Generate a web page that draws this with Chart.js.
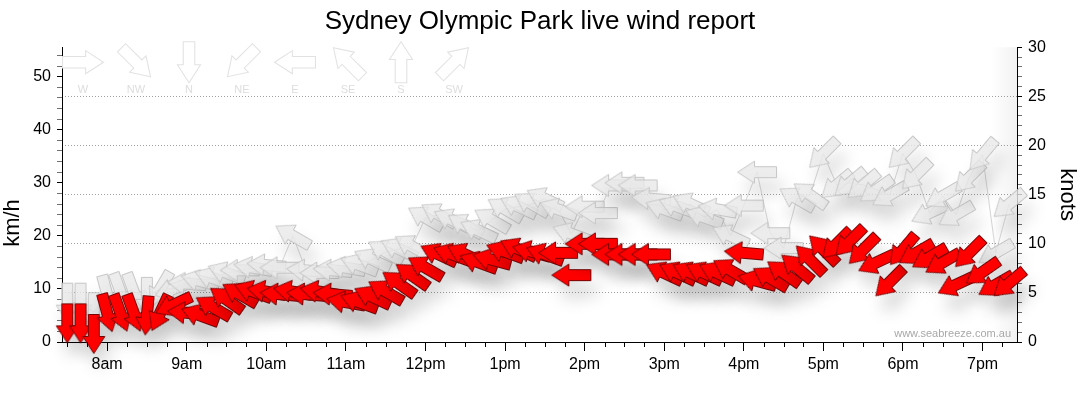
<!DOCTYPE html>
<html>
<head>
<meta charset="utf-8">
<script src="https://cdn.jsdelivr.net/npm/chart.js@4/dist/chart.umd.min.js"></script>
<style>
html, body { margin: 0; padding: 0; background: #fff; }
#wrap { width: 1080px; height: 414px; }
</style>
</head>
<body>
<div id="wrap"><canvas id="windChart" width="1080" height="414"></canvas></div>
<script>
// readings every 10 minutes
const times = [
    "07:30","07:40","07:50",
    "08:00","08:10","08:20","08:30","08:40","08:50",
    "09:00","09:10","09:20","09:30","09:40","09:50",
    "10:00","10:10","10:20","10:30","10:40","10:50",
    "11:00","11:10","11:20","11:30","11:40","11:50",
    "12:00","12:10","12:20","12:30","12:40","12:50",
    "13:00","13:10","13:20","13:30","13:40","13:50",
    "14:00","14:10","14:20","14:30","14:40","14:50",
    "15:00","15:10","15:20","15:30","15:40","15:50",
    "16:00","16:10","16:20","16:30","16:40","16:50",
    "17:00","17:10","17:20","17:30","17:40","17:50",
    "18:00","18:10","18:20","18:30","18:40","18:50",
    "19:00","19:10","19:20"
]
// average wind, km/h and direction it comes from (deg)
const avgKmh = [
    3.5, 3.5, 1.5, 5.5, 5.5, 5.5, 5, 5.5, 7, 5.5,
    5, 6.5, 8, 9, 9.5, 9.5, 9, 9.5, 9, 9.5,
    9, 7.5, 7.5, 8.5, 9.5, 11, 12.5, 14, 16.5, 16.5,
    16.5, 15, 15.5, 17, 17.5, 17, 16.5, 16.8, 12.6, 18.5,
    18.5, 16.5, 16.5, 16.5, 16.5, 13, 13, 13, 13, 13,
    13.5, 16.8, 11.5, 12, 13, 14, 15.5, 17.4, 18.5, 19,
    17.4, 15, 11.3, 17.4, 16.8, 16, 15, 10.8, 16.8, 13.2,
    10.8, 11.1
]
const avgDir = [
    0, 0, 0, 345, 340, 340, 5, 25, 65, 95,
    110, 120, 125, 120, 110, 100, 95, 100, 95, 100,
    95, 100, 110, 115, 120, 125, 125, 120, 115, 110,
    115, 110, 105, 110, 115, 105, 110, 90, 90, 90,
    90, 90, 90, 90, 90, 115, 115, 115, 115, 115,
    120, 95, 105, 120, 125, 130, 135, 135, 45, 45,
    45, 65, 45, 40, 60, 60, 60, 65, 45, 55,
    60, 50
]
// gusts
const gustKmh = [
    7.4, 7.4, 5.6, 9, 9.5, 9.5, 8.5, 10, 10, 11,
    11.5, 12, 13, 13.5, 14, 14.5, 14, 20, 13.5, 13,
    13.5, 14, 14.5, 15.5, 17, 17.5, 18, 23.4, 24, 23,
    22, 21, 23, 25, 25.5, 26, 27, 25, 20.4, 25.5,
    24.3, 29.5, 30, 29.5, 27, 25, 25.5, 26, 23.5, 25,
    20, 25.7, 32, 20.5, 17.7, 27, 27.7, 35.5, 29.6, 30,
    29.6, 28.7, 27.7, 35.5, 31.5, 24.3, 27.5, 24, 31, 35.3,
    16.8, 26
]
const gustDir = [
    0, 0, 0, 345, 340, 340, 0, 30, 70, 95,
    105, 110, 110, 90, 100, 95, 90, 120, 95, 90,
    95, 100, 110, 115, 120, 115, 120, 120, 120, 115,
    120, 115, 120, 120, 115, 120, 115, 110, 110, 90,
    90, 90, 90, 90, 95, 110, 110, 115, 110, 100,
    115, 90, 90, 90, 90, 120, 125, 45, 50, 50,
    50, 55, 60, 45, 45, 65, 60, 60, 45, 40,
    60, 50
]
const hourValues = [8, 9, 10, 11, 12, 13, 14, 15, 16, 17, 18, 19]
const hourLabels = ["8am","9am","10am","11am","12pm","1pm","2pm","3pm","4pm","5pm","6pm","7pm"]
const compassLabels = ["W","NW","N","NE","E","SE","S","SW"]
const compassDirs = [270, 315, 0, 45, 90, 135, 180, 225]

const KMH_PER_KNOT = 1.852
const FONT = "'Liberation Sans', Arial, sans-serif"

function toHours(s){
    const [h, m] = s.split(':').map(Number)
    return h + m / 60
}

function arrowPath(g){
    g.beginPath()
    g.moveTo(0, -19.5)
    g.lineTo(11, -2.5)
    g.lineTo(5.5, -2.5)
    g.lineTo(5.5, 19.5)
    g.lineTo(-5.5, 19.5)
    g.lineTo(-5.5, -2.5)
    g.lineTo(-11, -2.5)
    g.closePath()
}

function makeArrow(fill, stroke){
    const c = document.createElement('canvas')
    c.width = 48
    c.height = 48
    const g = c.getContext('2d')
    g.translate(24, 24)
    arrowPath(g)
    g.fillStyle = fill
    g.fill()
    g.lineWidth = 1
    g.strokeStyle = stroke
    g.stroke()
    return c
}

const redArrow = makeArrow('#ff0000', 'rgba(110,0,0,0.95)')
const greyArrow = makeArrow('rgba(232,232,232,0.8)', 'rgba(195,195,195,0.95)')

const xTicks = []
for (let t = 7.5; t <= 19.26; t += 0.25) xTicks.push(+t.toFixed(2))
const kmhTicks = []
for (let v = 0; v <= 54; v += 2) kmhTicks.push(v)
const knotTicks = []
for (let v = 0; v <= 30; v += 1) knotTicks.push(v)

const isHour = v => Math.abs(v - Math.round(v)) < 1e-6

const shadowPlugin = {
    id: 'arrowShadow',
    beforeDatasetDraw(chart){
        const ctx = chart.ctx
        ctx.save()
        ctx.shadowColor = 'rgba(0,0,0,0.16)'
        ctx.shadowBlur = 16
        ctx.shadowOffsetX = 6
        ctx.shadowOffsetY = 15
    },
    afterDatasetDraw(chart){
        chart.ctx.restore()
    }
}

const decorPlugin = {
    id: 'decor',
    beforeDatasetsDraw(chart){
        const {ctx, chartArea} = chart
        // faint shade at right edge
        const grad = ctx.createLinearGradient(chartArea.right - 26, 0, chartArea.right, 0)
        grad.addColorStop(0, 'rgba(0,0,0,0)')
        grad.addColorStop(1, 'rgba(0,0,0,0.05)')
        ctx.fillStyle = grad
        ctx.fillRect(chartArea.right - 26, chartArea.top, 26, chartArea.bottom - chartArea.top)

        // compass legend
        ctx.save()
        ctx.font = '11px ' + FONT
        ctx.textAlign = 'center'
        ctx.textBaseline = 'middle'
        compassLabels.forEach((lab, i) => {
            const cx = chartArea.left + 21 + i * 53
            const cy = chartArea.top + 15
            ctx.save()
            ctx.translate(cx, cy)
            ctx.rotate((compassDirs[i] + 180) * Math.PI / 180)
            ctx.scale(1.05, 1.05)
            arrowPath(ctx)
            ctx.fillStyle = '#fff'
            ctx.fill()
            ctx.strokeStyle = '#e2e2e2'
            ctx.lineWidth = 1
            ctx.stroke()
            ctx.restore()
            ctx.fillStyle = '#dddddd'
            ctx.fillText(lab, cx, chartArea.top + 43)
        })
        ctx.restore()

        // site watermark
        ctx.save()
        ctx.font = '11px ' + FONT
        ctx.fillStyle = '#a8a8a8'
        ctx.textAlign = 'right'
        ctx.textBaseline = 'alphabetic'
        ctx.fillText('www.seabreeze.com.au', chartArea.right - 6, chartArea.bottom - 5)
        ctx.restore()
    },
    afterDraw(chart){
        const {ctx, chartArea} = chart
        // short minor ticks on the time axis
        const xs = chart.scales.x
        ctx.save()
        ctx.strokeStyle = '#000'
        ctx.lineWidth = 1
        ctx.beginPath()
        xs.ticks.forEach(t => {
            if (isHour(t.value)) return
            const px = Math.round(xs.getPixelForValue(t.value)) + 0.5
            ctx.moveTo(px, xs.top)
            ctx.lineTo(px, xs.top + 5)
        })
        ctx.stroke()
        ctx.restore()

        // left axis title sits a little below the middle
        ctx.save()
        ctx.translate(13, chartArea.bottom - 119)
        ctx.rotate(-Math.PI / 2)
        ctx.font = '22px ' + FONT
        ctx.fillStyle = '#000'
        ctx.textAlign = 'center'
        ctx.textBaseline = 'middle'
        ctx.fillText('km/h', 0, 0)
        ctx.restore()
    }
}

Chart.defaults.font.family = FONT
Chart.defaults.color = '#000'

new Chart(document.getElementById('windChart').getContext('2d'), {
    type: 'line',
    data: {
        datasets: [
            {
                label: 'Average',
                data: times.map((t, i) => ({x: toHours(t), y: avgKmh[i]})),
                showLine: false,
                pointStyle: redArrow,
                pointRotation: avgDir.map(d => d + 180),
                clip: false,
                yAxisID: 'y'
            },
            {
                label: 'Gust',
                data: times.map((t, i) => ({x: toHours(t), y: gustKmh[i]})),
                showLine: true,
                borderColor: 'rgba(205,205,205,0.8)',
                borderWidth: 1,
                tension: 0,
                pointStyle: greyArrow,
                pointRotation: gustDir.map(d => d + 180),
                clip: false,
                yAxisID: 'y'
            }
        ]
    },
    options: {
        responsive: false,
        animation: false,
        devicePixelRatio: 1,
        layout: {padding: 0},
        events: [],
        plugins: {
            legend: {display: false},
            tooltip: {enabled: false},
            title: {
                display: true,
                text: 'Sydney Olympic Park live wind report',
                color: '#000',
                font: {size: 26, weight: 'normal', family: FONT},
                padding: {top: 6, bottom: 10}
            }
        },
        scales: {
            x: {
                type: 'linear',
                min: 7.433,
                max: 19.433,
                afterBuildTicks: s => { s.ticks = xTicks.map(v => ({value: v})) },
                afterFit: s => { s.height = 72 },
                ticks: {
                    autoSkip: false,
                    maxRotation: 0,
                    padding: 4,
                    color: '#000',
                    font: {size: 16},
                    callback: v => {
                        const i = hourValues.findIndex(h => Math.abs(h - v) < 1e-6)
                        return i >= 0 ? hourLabels[i] : ''
                    }
                },
                grid: {
                    drawOnChartArea: false,
                    tickLength: 9,
                    tickColor: c => (c.tick && isHour(c.tick.value)) ? '#000' : 'rgba(0,0,0,0)'
                },
                border: {color: '#000', width: 1}
            },
            y: {
                position: 'left',
                min: 0,
                max: 30 * KMH_PER_KNOT,
                afterBuildTicks: s => { s.ticks = kmhTicks.map(v => ({value: v})) },
                afterFit: s => { s.width = 62 },
                ticks: {
                    autoSkip: false,
                    padding: 6,
                    color: '#000',
                    font: {size: 16},
                    callback: v => (v % 10 === 0 ? String(v) : '')
                },
                grid: {
                    drawOnChartArea: false,
                    tickLength: 5,
                    tickColor: c => (c.tick && c.tick.value % 10 === 0) ? '#000' : '#707070'
                },
                border: {color: '#000', width: 1}
            },
            y2: {
                position: 'right',
                min: 0,
                max: 30,
                afterBuildTicks: s => { s.ticks = knotTicks.map(v => ({value: v})) },
                afterFit: s => { s.width = 63 },
                ticks: {
                    autoSkip: false,
                    padding: 6,
                    color: '#000',
                    font: {size: 16},
                    callback: v => (v % 5 === 0 ? String(v) : '')
                },
                grid: {
                    drawOnChartArea: true,
                    tickLength: 5,
                    color: c => (c.tick && c.tick.value % 5 === 0 && c.tick.value > 0 && c.tick.value < 30) ? '#a0a0a0' : 'rgba(0,0,0,0)',
                    tickColor: c => (c.tick && c.tick.value % 5 === 0) ? '#000' : '#707070'
                },
                border: {color: '#000', width: 1, dash: [1, 2]},
                title: {
                    display: true,
                    text: 'knots',
                    color: '#000',
                    font: {size: 22},
                    padding: 0
                }
            }
        }
    },
    plugins: [shadowPlugin, decorPlugin]
})
</script>
</body>
</html>
